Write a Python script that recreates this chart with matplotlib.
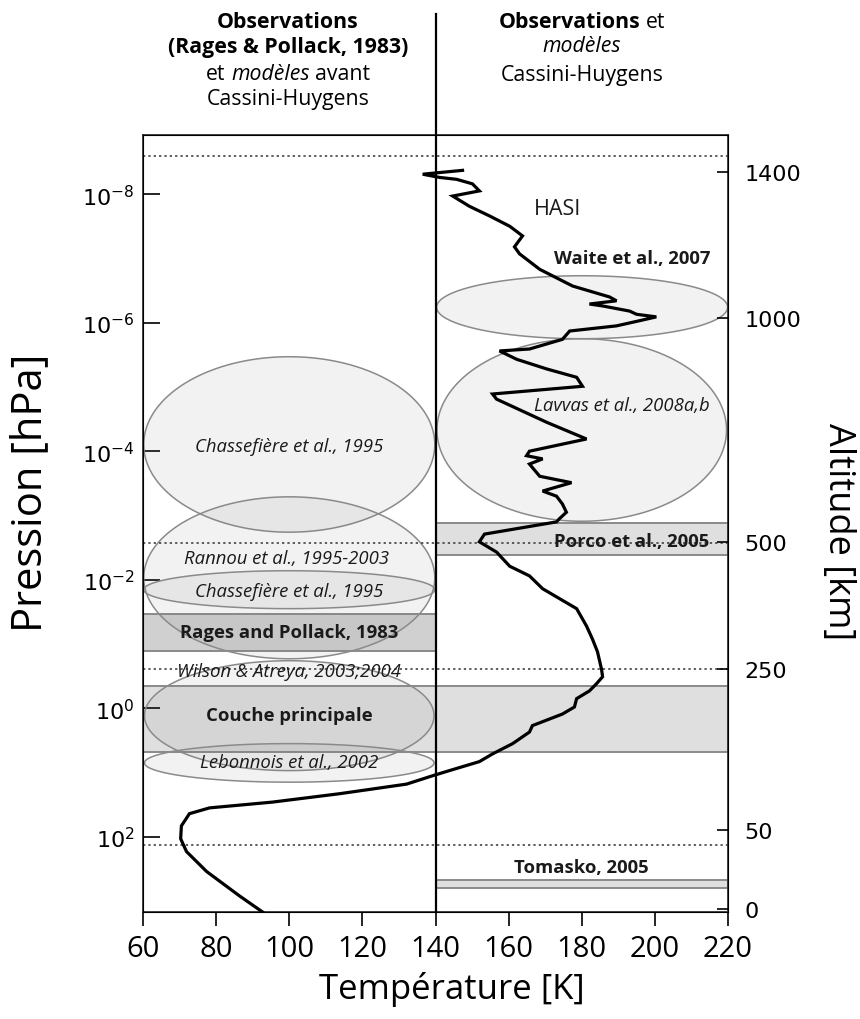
"""Titan temperature profile with haze layer references (pressure / altitude)."""

import numpy as np
import matplotlib

matplotlib.use("Agg")
import matplotlib.pyplot as plt
from matplotlib import font_manager

# ---- data -------------------------------------------------------------------
# temperature profile [K] vs log10(pressure [hPa]); left part is the
# pre-Cassini model, right part the HASI measurement
profile_T = [92.7, 86.4, 77.4, 71.9, 70.3, 70.5, 72.7, 78.2, 95.4, 113.7,
             132.1, 139.2, 143.8, 152.0, 155.6, 161.1, 165.7, 166.5, 174.7,
             178.0, 178.6, 182.1, 184.0, 185.7, 185.4, 184.3, 182.9, 181.3,
             180.2, 178.6, 169.3, 165.7, 160.3, 156.7, 152.0, 153.4, 173.1,
             173.9, 175.8, 174.7, 173.1, 169.3, 177.2, 168.5, 165.7, 169.3,
             164.9, 165.7, 181.3, 170.4, 156.7, 155.6, 180.2, 178.6, 170.4,
             162.2, 157.5, 165.7, 174.7, 176.7, 189.5, 195.0, 200.4, 195.0,
             193.1, 185.7, 182.1, 189.5, 187.6, 177.5, 168.5, 163.0, 161.6,
             163.8, 160.3, 154.8, 149.3, 144.7, 152.0, 150.1, 145.8, 141.1,
             136.5, 147.4]
profile_logp = [3.17, 2.92, 2.54, 2.23, 2.03, 1.83, 1.64, 1.55, 1.46, 1.33,
                1.18, 1.05, 0.97, 0.83, 0.71, 0.55, 0.37, 0.27, 0.09, -0.02,
                -0.15, -0.27, -0.38, -0.49, -0.61, -0.88, -1.08, -1.28, -1.39,
                -1.55, -1.86, -2.06, -2.21, -2.43, -2.59, -2.71, -2.90, -2.95,
                -3.05, -3.18, -3.30, -3.38, -3.51, -3.61, -3.80, -3.88, -3.93,
                -4.00, -4.19, -4.45, -4.81, -4.89, -5.01, -5.15, -5.28, -5.43,
                -5.56, -5.59, -5.74, -5.87, -5.95, -6.02, -6.09, -6.13, -6.18,
                -6.26, -6.29, -6.34, -6.40, -6.57, -6.83, -7.07, -7.18, -7.35,
                -7.50, -7.66, -7.81, -7.97, -8.05, -8.16, -8.23, -8.26, -8.31,
                -8.37]

# ellipses: centre T, half width T, log p top, log p bottom
ell_T = [100.0, 100.0, 100.0, 100.0, 100.0, 180.1, 180.0]
ell_halfw = [39.8, 39.8, 39.8, 39.6, 39.6, 39.8, 39.6]
ell_top = [-5.47, -3.29, -2.14, -0.74, 0.55, -6.73, -5.75]
ell_bot = [-2.74, -0.77, -1.55, 0.97, 1.15, -5.75, -2.91]

# bands: T min, T max, log p top, log p bottom
band_tmin = [60, 60, 140, 140]
band_tmax = [140, 220, 220, 220]
band_top = [-1.47, -0.35, -2.88, 2.67]
band_bot = [-0.89, 0.68, -2.39, 2.79]

# text labels: text, T, log p, style
lab_text = ["Chassefière et al., 1995", "Rannou et al., 1995-2003",
            "Chassefière et al., 1995", "Rages and Pollack, 1983",
            "Wilson & Atreya, 2003;2004", "Couche principale",
            "Lebonnois et al., 2002", "HASI", "Waite et al., 2007",
            "Lavvas et al., 2008a,b", "Porco et al., 2005", "Tomasko, 2005"]
lab_T = [100, 99.3, 100, 100, 100, 100, 100, 173.4, 193.9, 190.9, 193.6, 180]
lab_logp = [-4.08, -2.34, -1.83, -1.19, -0.58, 0.10, 0.83, -7.77, -7.00,
            -4.72, -2.60, 2.47]
lab_style = ["it", "it", "it", "bf", "it", "bf", "it", "rm", "bf", "it",
             "bf", "bf"]

# dotted reference levels (log p)
dotted_logp = [-8.59, -2.57, -0.61, 2.12]

# axes
temp_ticks = [60, 80, 100, 120, 140, 160, 180, 200, 220]
press_exp = [-8, -6, -4, -2, 0, 2]
alt_ticks = [1400, 1000, 500, 250, 50, 0]
alt_logp = [-8.34, -6.07, -2.59, -0.61, 1.89, 3.13]

# ---- fonts ------------------------------------------------------------------
names = {f.name for f in font_manager.fontManager.ttflist}
FONT = "Liberation Sans Narrow" if "Liberation Sans Narrow" in names else "Open Sans"
plt.rcParams["font.family"] = [FONT, "DejaVu Sans"]
plt.rcParams["mathtext.fontset"] = "dejavusans"

STYLE = {"rm": {}, "it": {"style": "italic"}, "bf": {"weight": "bold"}}

fig = plt.figure(figsize=(8.6, 10.2), dpi=100)
ax = fig.add_axes([143 / 860, 107 / 1020, 585 / 860, 777 / 1020])
ax.set_yscale("log")
ax.set_xlim(60, 220)
ax.set_ylim(10 ** 3.17, 10 ** -8.92)

# bands
for tmin, tmax, top, bot in zip(band_tmin, band_tmax, band_top, band_bot):
    col = "#d0d0d0" if tmax == 140 else "#dfdfdf"
    ax.fill_between([tmin, tmax], 10 ** top, 10 ** bot, facecolor=col,
                    edgecolor="#8a8a8a", linewidth=1.4, zorder=1)

# ellipses (drawn in log-pressure space)
th = np.linspace(0, 2 * np.pi, 200)
for cx, hw, top, bot in zip(ell_T, ell_halfw, ell_top, ell_bot):
    cy = (top + bot) / 2
    hh = (bot - top) / 2
    ax.fill(cx + hw * np.cos(th), 10 ** (cy + hh * np.sin(th)),
            facecolor=(0.5, 0.5, 0.5, 0.1), edgecolor="#8a8a8a",
            linewidth=1.1, zorder=2)

for lp in dotted_logp:
    ax.axhline(10 ** lp, color="#333333", linestyle=(0, (1.5, 2)),
               linewidth=1.1, zorder=3)

for s, t, lp, st in zip(lab_text, lab_T, lab_logp, lab_style):
    size = 15.5 if s == "HASI" else 13.3
    ax.text(t, 10 ** lp, s, ha="center", va="center", fontsize=size,
            color="#1a1a1a", zorder=4, **STYLE[st])

ax.plot(profile_T, 10 ** np.array(profile_logp), color="black",
        linewidth=2.3, zorder=5, solid_joinstyle="miter")

ax.axvline(140, ymin=0, ymax=1.156, color="black", linewidth=1.6,
           clip_on=False, zorder=6)

# ticks
ax.set_xticks(temp_ticks)
ax.set_xticklabels([str(t) for t in temp_ticks], fontsize=21)
ax.tick_params(axis="x", direction="out", length=10, width=1.2, pad=6)
ax.set_yticks([10.0 ** e for e in press_exp])
ax.set_yticklabels([r"$10^{%d}$" % e for e in press_exp], fontsize=16,
                   family="DejaVu Sans")
ax.yaxis.set_minor_locator(matplotlib.ticker.NullLocator())
ax.tick_params(axis="y", direction="in", length=12, width=1.2, pad=6)
for sp in ax.spines.values():
    sp.set_linewidth(1.3)
    sp.set_color("#333333")

ax2 = ax.twinx()
ax2.set_yscale("log")
ax2.set_ylim(ax.get_ylim())
ax2.set_yticks([10.0 ** v for v in alt_logp])
ax2.set_yticklabels([str(a) for a in alt_ticks], fontsize=16,
                    family="DejaVu Sans")
ax2.yaxis.set_minor_locator(matplotlib.ticker.NullLocator())
ax2.tick_params(axis="y", direction="in", length=8, width=1.2, pad=12)

# axis labels
fig.text(452 / 860, 1 - 990 / 1020, "Température [K]", ha="center",
         va="center", fontsize=25)
fig.text(30 / 860, 1 - 493 / 1020, "Pression [hPa]", ha="center",
         va="center", fontsize=30, rotation=90)
fig.text(838 / 860, 1 - 532 / 1020, "Altitude [km]", ha="center",
         va="center", fontsize=26, rotation=270)


def rich_line(xc, ypx, parts, size=15.3):
    """Draw a centred line made of differently styled words."""
    r = fig.canvas.get_renderer()
    gap = 0.27 * size * 100 / 72
    texts = [fig.text(0, 1 - ypx / 1020, s, fontsize=size, va="center",
                      ha="left", **STYLE[st]) for s, st in parts]
    widths = [t.get_window_extent(r).width for t in texts]
    x0 = xc - (sum(widths) + gap * (len(parts) - 1)) / 2
    for t, w in zip(texts, widths):
        t.set_x(x0 / 860)
        x0 += w + gap


rich_line(288, 22, [("Observations", "bf")])
rich_line(288, 47, [("(Rages & Pollack, 1983)", "bf")])
rich_line(288, 75, [("et", "rm"), ("modèles", "it"), ("avant", "rm")])
rich_line(288, 100, [("Cassini-Huygens", "rm")])
rich_line(582, 22, [("Observations", "bf"), ("et", "rm")])
rich_line(582, 47, [("modèles", "it")])
rich_line(582, 75, [("Cassini-Huygens", "rm")])

fig.savefig("out.png", dpi=100)
